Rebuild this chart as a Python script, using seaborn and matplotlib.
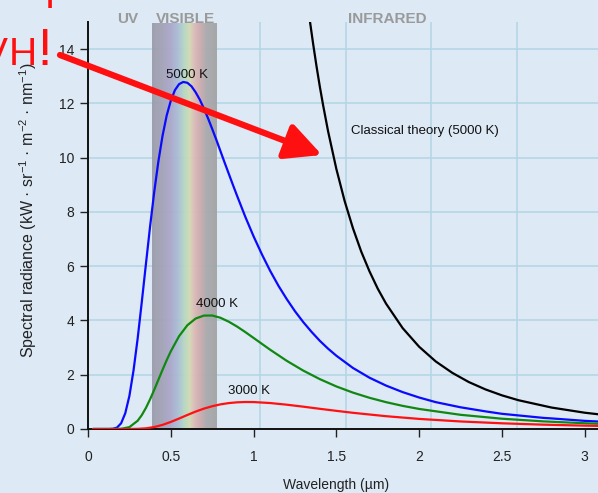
import numpy as np
import pandas as pd
import seaborn as sns
import matplotlib
matplotlib.use("Agg")
import matplotlib.pyplot as plt
from matplotlib.colors import LinearSegmentedColormap

# spectral radiance (kW sr^-1 m^-2 nm^-1) vs wavelength (um)
wl_5000 = [0.03, 0.1, 0.125, 0.15, 0.175, 0.2, 0.225, 0.25, 0.275, 0.3, 0.325, 0.35, 0.375, 0.4,
           0.425, 0.45, 0.475, 0.5, 0.525, 0.55, 0.575, 0.6, 0.625, 0.65, 0.675, 0.7, 0.725,
           0.75, 0.775, 0.8, 0.825, 0.85, 0.875, 0.9, 0.95, 1.0, 1.05, 1.1, 1.15, 1.2, 1.25,
           1.3, 1.35, 1.4, 1.45, 1.5, 1.6, 1.7, 1.8, 1.9, 2.0, 2.1, 2.25, 2.4, 2.5, 2.6,
           2.75, 2.8, 3.0, 3.1]
b_5000 = [0, 0, 0.0004, 0.007, 0.052, 0.21, 0.58, 1.22, 2.16, 3.34, 4.69, 6.09, 7.47, 8.74,
          9.86, 10.80, 11.55, 12.10, 12.49, 12.71, 12.79, 12.76, 12.63, 12.41, 12.14, 11.81, 11.45,
          11.06, 10.66, 10.24, 9.82, 9.41, 9.00, 8.60, 7.82, 7.10, 6.44, 5.83, 5.28, 4.79, 4.34,
          3.94, 3.58, 3.25, 2.96, 2.70, 2.25, 1.89, 1.60, 1.36, 1.16, 0.99, 0.80, 0.65, 0.56, 0.50,
          0.41, 0.39, 0.30, 0.27]

wl_4000 = [0.03, 0.15, 0.2, 0.25, 0.3, 0.325, 0.35, 0.375, 0.4, 0.425, 0.45, 0.475, 0.5, 0.55,
           0.6, 0.65, 0.7, 0.75, 0.8, 0.85, 0.9, 0.95, 1.0, 1.1, 1.2, 1.3, 1.4, 1.5, 1.6, 1.7,
           1.8, 1.9, 2.0, 2.25, 2.5, 2.75, 3.0, 3.1]
b_4000 = [0, 0, 0.006, 0.069, 0.304, 0.513, 0.780, 1.096, 1.445, 1.813, 2.180, 2.535, 2.863, 3.422,
          3.824, 4.071, 4.180, 4.183, 4.099, 3.955, 3.776, 3.572, 3.356, 2.922, 2.514, 2.152, 1.838, 1.568, 1.341, 1.150,
          0.989, 0.853, 0.739, 0.523, 0.379, 0.281, 0.212, 0.190]

wl_3000 = [0.03, 0.2, 0.25, 0.3, 0.35, 0.4, 0.45, 0.5, 0.55, 0.6, 0.65, 0.7, 0.75, 0.8, 0.85,
           0.9, 0.95, 1.0, 1.1, 1.2, 1.3, 1.4, 1.5, 1.6, 1.8, 2.0, 2.25, 2.5, 2.75, 3.0, 3.1]
b_3000 = [0, 0, 0.001, 0.006, 0.025, 0.072, 0.152, 0.260, 0.386, 0.517, 0.642, 0.751, 0.839, 0.908, 0.955,
          0.983, 0.995, 0.993, 0.957, 0.896, 0.823, 0.744, 0.669, 0.597, 0.472, 0.372, 0.278, 0.210, 0.160, 0.124, 0.113]

# classical theory curve at 5000 K
wl_rj = [1.33, 1.34, 1.36, 1.38, 1.4, 1.42, 1.45, 1.5, 1.55, 1.6, 1.65, 1.7, 1.75, 1.8, 1.9,
         2.0, 2.1, 2.2, 2.3, 2.4, 2.5, 2.6, 2.8, 3.0, 3.1]
b_rj = [15.5, 15.04, 14.18, 13.37, 12.62, 11.93, 10.97, 9.58, 8.40, 7.40, 6.54, 5.81, 5.17, 4.62, 3.72,
        3.03, 2.49, 2.07, 1.73, 1.46, 1.24, 1.06, 0.79, 0.60, 0.53]

sns.set_theme(style="white")
plt.rcParams["font.family"] = ["Liberation Sans", "DejaVu Sans"]
plt.rcParams["mathtext.fontset"] = "custom"
plt.rcParams["mathtext.rm"] = "Liberation Sans"
plt.rcParams["mathtext.it"] = "Liberation Sans"

bg = "#dde9f5"
fig = plt.figure(figsize=(5.98, 4.93), dpi=100, facecolor=bg)
ax = fig.add_axes([88 / 598, 64 / 493, 510 / 598, 407 / 493])
ax.set_facecolor("none")

# visible band
spec = LinearSegmentedColormap.from_list("spec", [
    (0.0, "#9c9cab"), (0.15, "#a3a3b7"), (0.28, "#aba7c9"), (0.40, "#aabdd6"),
    (0.50, "#b6d8c2"), (0.58, "#d3dbb4"), (0.66, "#dbb8b6"), (0.75, "#cbabaf"),
    (0.84, "#aaaaac"), (1.0, "#a4a4a6")])
ax.imshow(np.linspace(0, 1, 256)[None, :], cmap=spec, aspect="auto",
          extent=[0.385, 0.775, 0, 14.95], zorder=1, alpha=0.95)

# light grid
for y in range(2, 15, 2):
    ax.axhline(y, color="#b5d6e4", lw=1.2, zorder=0)
for x in [1.04, 1.56, 2.07, 2.59]:
    ax.axvline(x, color="#b5d6e4", lw=1.2, zorder=0)

sns.lineplot(x=wl_5000, y=b_5000, color="#0a0aff", lw=1.6, ax=ax, zorder=3)
sns.lineplot(x=wl_4000, y=b_4000, color="#118811", lw=1.6, ax=ax, zorder=3)
sns.lineplot(x=wl_3000, y=b_3000, color="#ff1111", lw=1.6, ax=ax, zorder=3)
sns.lineplot(x=wl_rj, y=b_rj, color="black", lw=1.6, ax=ax, zorder=3)

ax.set_xlim(0, 3.08)
ax.set_ylim(0, 15)
ax.set_xticks([0, 0.5, 1, 1.5, 2, 2.5, 3])
ax.set_xticklabels(["0", "0.5", "1", "1.5", "2", "2.5", "3"])
ax.set_yticks(range(0, 15, 2))
ax.tick_params(axis="both", direction="out", length=6, width=1, color="#222222",
               labelsize=10, labelcolor="#222222", left=True, bottom=True)
ax.tick_params(axis="x", pad=9)
ax.tick_params(axis="y", pad=4)
for s in ["top", "right"]:
    ax.spines[s].set_visible(False)
for s in ["left", "bottom"]:
    ax.spines[s].set_color("#111111")
    ax.spines[s].set_linewidth(1.4)

ax.set_xlabel("Wavelength (µm)", fontsize=10, color="#222222")
ax.xaxis.set_label_coords(1.5 / 3.08, -0.12)
ax.set_ylabel(r"Spectral radiance (kW · sr$^{-1}$ · m$^{-2}$ · nm$^{-1}$)",
              fontsize=11.5, color="#222222")
ax.yaxis.set_label_coords(-0.096, 8.05 / 15)

lab = dict(fontsize=9.5, color="#111111", ha="center", va="center", zorder=4)
ax.text(0.6, 13.05, "5000 K", **lab)
ax.text(0.78, 4.6, "4000 K", **lab)
ax.text(0.97, 1.4, "3000 K", **lab)
ax.text(1.59, 11.0, "Classical theory (5000 K)", fontsize=9.5, color="#111111",
        ha="left", va="center", zorder=4)

top = dict(fontsize=11, color="#9a9a9a", fontweight="bold", ha="center", va="center", clip_on=False)
ax.text(0.242, 15.1, "UV", **top)
ax.text(0.59, 15.1, "VISIBLE", **top)
ax.text(1.805, 15.1, "INFRARED", **top)

# red annotation (partly cut off at the top-left corner)
red = "#ff1010"
fig.text(-10, 493 + 1, "Oops.", transform=None, fontsize=30, color=red, ha="left", va="baseline")
fig.text(8, 493 - 65, "V", transform=None, fontsize=28, color=red, ha="right", va="baseline")
fig.text(23, 493 - 65, "H", transform=None, fontsize=28, color=red, ha="center", va="baseline")
fig.text(44.5, 493 - 65, "!", transform=None, fontsize=37, color=red, ha="center", va="baseline")
ax.annotate("", xy=(322, 493 - 155), xycoords="figure pixels",
            xytext=(60, 493 - 55), textcoords="figure pixels",
            arrowprops=dict(arrowstyle="-|>,head_length=1.1,head_width=0.55",
                            mutation_scale=20, lw=4.5, color=red,
                            shrinkA=0, shrinkB=0), zorder=6)

fig.savefig("out.png", dpi=100, facecolor=bg)
